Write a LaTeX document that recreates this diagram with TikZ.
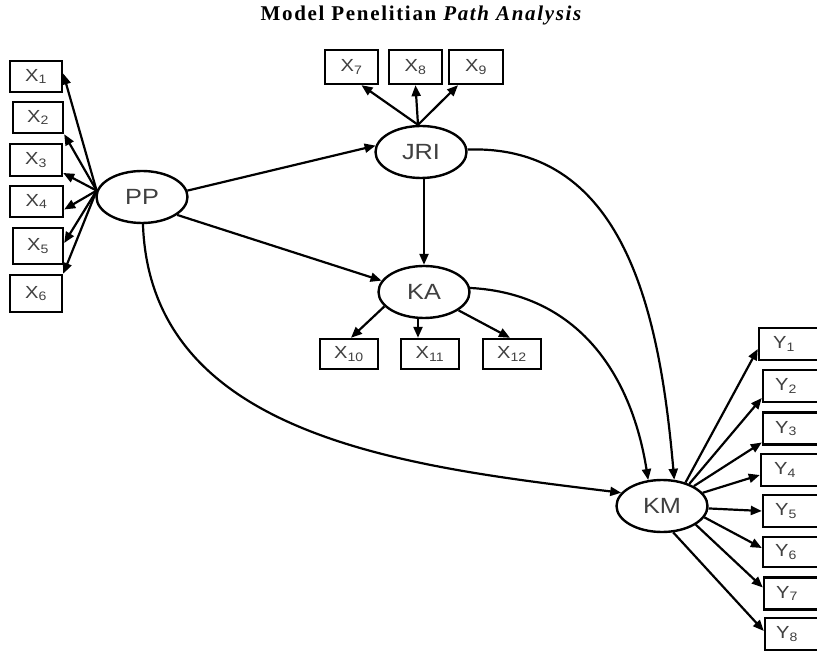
\documentclass[tikz,border=0pt]{standalone}
\usepackage{fontspec}
\setmainfont{Liberation Sans}
\newfontfamily\titlefont[LetterSpace=8]{Liberation Serif}
\newfontfamily\lblfont[FakeStretch=1.15]{Liberation Sans}
\usetikzlibrary{arrows.meta,shapes.geometric}
\begin{document}
\begin{tikzpicture}[x=1pt,y=-1pt,
  lv/.style={ellipse, draw, line width=2.4pt, minimum width=91pt, minimum height=52pt, inner sep=0pt, font=\lblfont\fontsize{22}{22}\selectfont, text=black!75},
  ibox/.style={draw, line width=2.4pt, inner sep=0pt, font=\lblfont\fontsize{17.5}{17.5}\selectfont, text=black!75},
  ybox/.style={draw, line width=2.4pt, inner sep=0pt, minimum height=32pt},
  lbl/.style={font=\lblfont\fontsize{17.5}{17.5}\selectfont, text=black!75, inner sep=0pt},
  arr/.style={line width=2.2pt, -{Triangle[length=11pt,width=9pt]}},
]
\useasboundingbox (0,0) rectangle (817,652);
\clip (0,0) rectangle (817,652);

% title
\node (title) at (421,15) {\titlefont\fontsize{21}{21}\selectfont\bfseries Model Penelitian \itshape Path Analysis};

% latent variables
\node[lv] (pp)  at (142,197) {PP};
\node[lv] (jri) at (421,152) {JRI};
\node[lv] (ka)  at (424,292) {KA};
\node[lv] (km)  at (662,506) {KM};

% X1..X6
\node[ibox, minimum width=52pt, minimum height=31pt] (x1) at (36,76.5) {X\textsubscript{1}};
\node[ibox, minimum width=50pt, minimum height=31pt] (x2) at (38,117.5) {X\textsubscript{2}};
\node[ibox, minimum width=52pt, minimum height=32pt] (x3) at (36,160) {X\textsubscript{3}};
\node[ibox, minimum width=53pt, minimum height=31pt] (x4) at (36.5,201.5) {X\textsubscript{4}};
\node[ibox, minimum width=50pt, minimum height=36pt] (x5) at (38,246) {X\textsubscript{5}};
\node[ibox, minimum width=52pt, minimum height=37pt] (x6) at (36,293.5) {X\textsubscript{6}};

% X7..X9
\node[ibox, minimum width=53pt, minimum height=34pt] (x7) at (351.5,67) {X\textsubscript{7}};
\node[ibox, minimum width=53pt, minimum height=34pt] (x8) at (415.5,67) {X\textsubscript{8}};
\node[ibox, minimum width=54pt, minimum height=34pt] (x9) at (476,67) {X\textsubscript{9}};

% X10..X12
\node[ibox, minimum width=58pt, minimum height=30pt] (x10) at (349,354) {X\textsubscript{10}};
\node[ibox, minimum width=58pt, minimum height=30pt] (x11) at (430,354) {X\textsubscript{11}};
\node[ibox, minimum width=58pt, minimum height=30pt] (x12) at (512,354) {X\textsubscript{12}};

% Y boxes (cut by right edge)
\node[ybox, minimum width=59pt] (y1) at (788.5,344) {};
\node[ybox, minimum width=55pt] (y2) at (790.5,386) {};
\node[ybox, minimum width=55pt] (y3) at (790.5,428.5) {};
\node[ybox, minimum width=57pt] (y4) at (789.5,470) {};
\node[ybox, minimum width=55pt] (y5) at (790.5,511) {};
\node[ybox, minimum width=55pt, minimum height=30pt] (y6) at (790.5,552) {};
\node[ybox, minimum width=54pt] (y7) at (791,593.5) {};
\node[ybox, minimum width=53pt] (y8) at (791.5,634) {};
\node[lbl] (y1t) at (784,344) {Y\textsubscript{1}};
\node[lbl] (y2t) at (786,386) {Y\textsubscript{2}};
\node[lbl] (y3t) at (786,428.5) {Y\textsubscript{3}};
\node[lbl] (y4t) at (785,470) {Y\textsubscript{4}};
\node[lbl] (y5t) at (786,511) {Y\textsubscript{5}};
\node[lbl] (y6t) at (786,552) {Y\textsubscript{6}};
\node[lbl] (y7t) at (787,593.5) {Y\textsubscript{7}};
\node[lbl] (y8t) at (787,634) {Y\textsubscript{8}};

% PP -> X1..X6
\coordinate (ppx) at (pp.172);
\draw[arr] (ppx) -- ([yshift=3pt]x1.east);
\draw[arr] (ppx) -- (x2.south east);
\draw[arr] (ppx) -- ([yshift=-13pt]x3.east);
\draw[arr] (ppx) -- ([yshift=-8pt]x4.east);
\draw[arr] (ppx) -- ([yshift=3pt]x5.east);
\draw[arr] (ppx) -- (x6.north east);

% JRI -> X7..X9
\coordinate (jrit) at ([xshift=-3pt]jri.north);
\draw[arr] (jrit) -- ([xshift=10pt]x7.south);
\draw[arr] (jrit) -- (x8.south);
\draw[arr] (jrit) -- ([xshift=-18pt]x9.south);

% KA -> X10..X12
\draw[arr] (ka.200) -- ([xshift=2pt]x10.north);
\draw[arr] ([xshift=-6pt]ka.south) -- ([xshift=-12pt]x11.north);
\draw[arr] (ka.-28) -- ([xshift=-2pt]x12.north);

% structural paths
\draw[arr] (pp.8) -- (jri.172);
\draw[arr] (pp.-27) -- (ka.165);
\draw[arr] (ka.north |- jri.south) -- (ka.north);
\draw[arr] (jri.3) to[out=2, in=95, looseness=1.05] (km.65);
\draw[arr] (ka.5) to[out=-3, in=99, looseness=1.05] (km.118);
\draw[arr] (pp.-88) to[out=-88, in=173] (km.162);

% KM -> Y1..Y8
\draw[arr] (km.45) -- ([yshift=-5pt]y1.west);
\draw[arr] (km.39) -- ([yshift=-12pt]y2.west);
\draw[arr] (km.32) -- ([yshift=-14pt]y3.west);
\draw[arr] (km.18) -- ([yshift=-5pt]y4.west);
\draw[arr] (km.-3) -- (y5.west);
\draw[arr] (km.-15) -- ([yshift=4pt]y6.west);
\draw[arr] (km.-29) -- ([yshift=6pt]y7.west);
\draw[arr] (km.-67) -- ([yshift=3pt]y8.west);
\end{tikzpicture}
\end{document}
